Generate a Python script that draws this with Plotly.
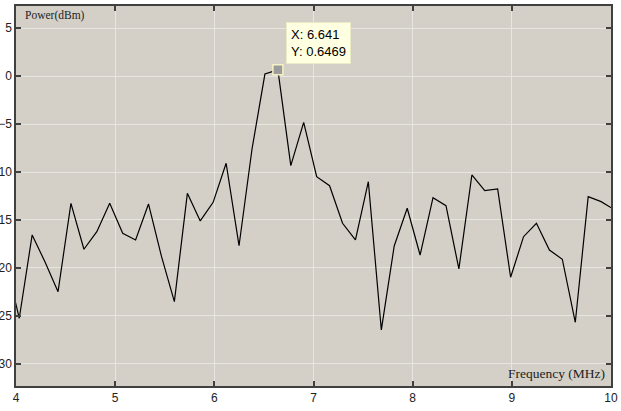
import plotly.graph_objects as go

# Frequency (MHz) sample points
freq = [3.903, 4.033, 4.163, 4.294, 4.424, 4.554, 4.685, 4.815, 4.945, 5.076,
        5.206, 5.336, 5.467, 5.597, 5.728, 5.858, 5.988, 6.119, 6.249, 6.380,
        6.510, 6.641, 6.771, 6.901, 7.032, 7.162, 7.293, 7.423, 7.553, 7.684,
        7.814, 7.945, 8.075, 8.205, 8.336, 8.466, 8.597, 8.727, 8.857, 8.988,
        9.118, 9.248, 9.379, 9.509, 9.640, 9.770, 9.900, 10.031]
# Power (dBm)
power = [-19.6, -25.24, -16.56, -19.4, -22.47, -13.26, -18.05, -16.22, -13.26, -16.39,
         -17.08, -13.33, -18.8, -23.51, -12.22, -15.1, -13.16, -9.09, -17.68, -7.6,
         0.21, 0.6469, -9.34, -4.82, -10.49, -11.43, -15.34, -17.08, -11.01, -26.46,
         -17.71, -13.78, -18.65, -12.68, -13.51, -20.1, -10.31, -11.93, -11.77, -20.97,
         -16.74, -15.34, -18.13, -19.09, -25.66, -12.57, -13.09, -13.9]

tip_x = [6.641]
tip_y = [0.6469]

x_ticks = [4, 5, 6, 7, 8, 9, 10]
y_ticks = [5, 0, -5, -10, -15, -20, -25, -30]

fig = go.Figure()
fig.add_trace(go.Scatter(x=freq, y=power, mode="lines",
                         line=dict(color="#000000", width=1.2),
                         hoverinfo="skip", showlegend=False))
fig.add_trace(go.Scatter(x=tip_x, y=tip_y, mode="markers",
                         marker=dict(symbol="square", size=10, color="#9c9c9c",
                                     line=dict(color="#f6f2c4", width=1.5)),
                         hoverinfo="skip", showlegend=False))

axis_common = dict(showline=True, linecolor="#404040", linewidth=1.5,
                   mirror="ticks", ticks="inside", ticklen=5, tickwidth=1.5,
                   tickcolor="#404040", showgrid=True, gridcolor="#e8e6e1",
                   gridwidth=1, zeroline=False,
                   tickfont=dict(family="Liberation Sans, Arial", size=12, color="#222222"))

fig.update_layout(
    width=621, height=411,
    margin=dict(l=16, r=10, t=6, b=25, autoexpand=False),
    paper_bgcolor="#ffffff", plot_bgcolor="#d4d0c8",
    xaxis=dict(range=[4, 10], tickvals=x_ticks, automargin=False, **axis_common),
    yaxis=dict(range=[-32.3, 7.3], tickvals=y_ticks, automargin=False, **axis_common),
    annotations=[
        dict(text="Power(dBm)", xref="paper", yref="paper", x=0.0123, y=0.974,
             xanchor="left", yanchor="middle", showarrow=False,
             font=dict(family="Liberation Serif, Times New Roman", size=11.5, color="#222222")),
        dict(text="Frequency (MHz)", xref="paper", yref="paper", x=0.9933, y=0.0334,
             xanchor="right", yanchor="middle", showarrow=False,
             font=dict(family="Liberation Serif, Times New Roman", size=13.5, color="#222222")),
        dict(text="X: 6.641<br>Y: 0.6469", x=tip_x[0], y=tip_y[0], xref="x", yref="y",
             xanchor="left", yanchor="bottom", xshift=8, yshift=6, showarrow=False,
             align="left", bgcolor="#ffffe1", bordercolor="#ecebc8", borderwidth=1,
             borderpad=4,
             font=dict(family="Liberation Sans, Arial", size=13, color="#000000")),
    ],
)

fig.write_html("out.html", config={"displayModeBar": False},
               post_script="document.body.style.margin='0';")
